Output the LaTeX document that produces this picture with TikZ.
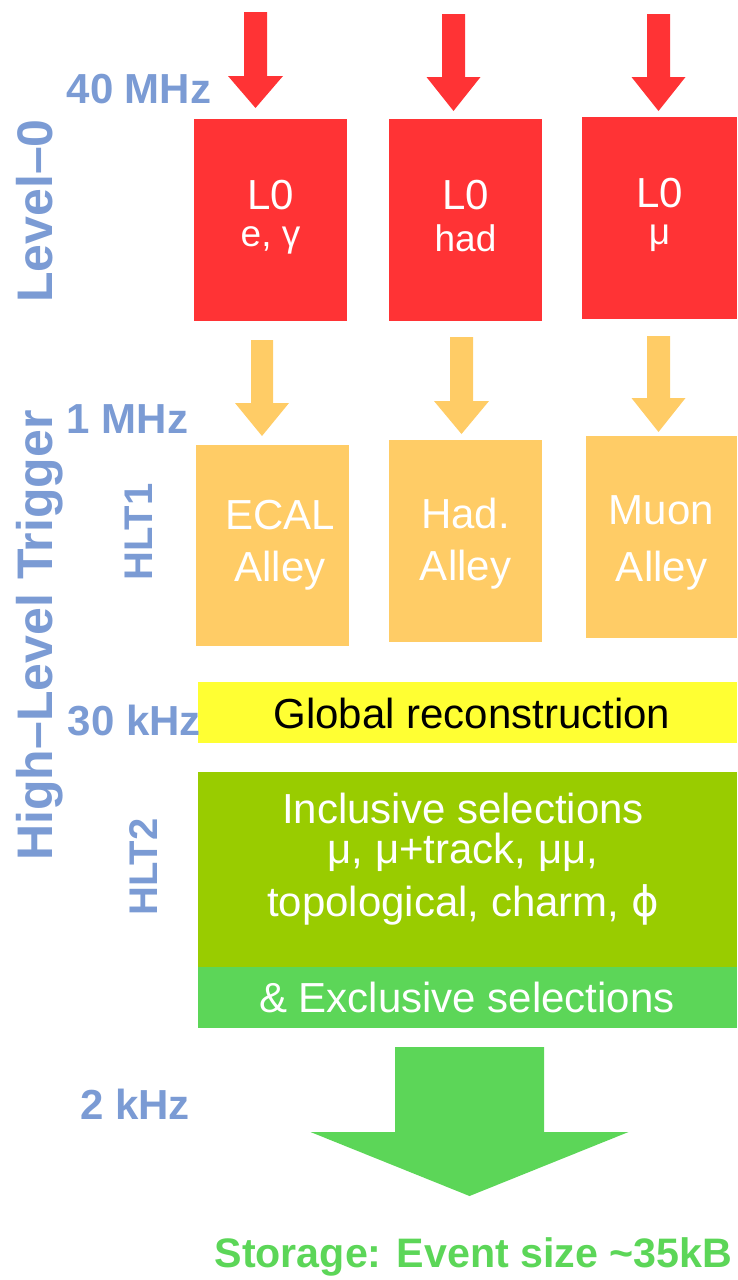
\documentclass[tikz,border=0pt]{standalone}
\usepackage{fontspec}
\setmainfont{Liberation Sans}
\newfontfamily\dejavu{DejaVu Sans}
\definecolor{lblue}{RGB}{123,155,212}
\definecolor{lzred}{RGB}{255,51,53}
\definecolor{hltorange}{RGB}{255,204,102}
\definecolor{globyellow}{RGB}{255,255,51}
\definecolor{hltolive}{RGB}{153,204,0}
\definecolor{exgreen}{RGB}{92,214,88}
\newcommand\blockarrow[7]{%
  \fill[#1] (#2-#4,#3) -- (#2+#4,#3) -- (#2+#4,#6) -- (#2+#5,#6) -- (#2,#7)
    -- (#2-#5,#6) -- (#2-#4,#6) -- cycle;}
\begin{document}
\begin{tikzpicture}[x=1pt,y=-1pt,
  blk/.style={draw=none,inner sep=0pt,outer sep=0pt,anchor=north west},
  boxtext/.style={inner sep=0pt,anchor=north,align=center,text=white,
    font=\fontsize{42}{52}\selectfont},
  ratelabel/.style={inner sep=0pt,anchor=base,text=lblue,
    font=\bfseries\fontsize{42}{42}\selectfont},
  sidelabel/.style={inner sep=0pt,anchor=base,rotate=90,text=lblue,
    font=\bfseries\fontsize{40}{40}\selectfont},
  titlelabel/.style={inner sep=0pt,anchor=base,rotate=90,text=lblue,
    font=\bfseries\fontsize{50}{50}\selectfont}]
\useasboundingbox (0,0) rectangle (737,1280);

% Level-0 boxes
\node[blk,fill=lzred,minimum width=153pt,minimum height=202pt] (r1) at (194,119) {};
\node[blk,fill=lzred,minimum width=153pt,minimum height=202pt] (r2) at (389,119) {};
\node[blk,fill=lzred,minimum width=155pt,minimum height=202pt] (r3) at (582,117) {};
\node[boxtext,font=\fontsize{42}{37}\selectfont] (r1t) at (270.5,180) {L0\\{\fontsize{37}{37}\selectfont e, γ}};
\node[boxtext,font=\fontsize{42}{42}\selectfont] (r2t) at (465.5,180) {L0\\{\fontsize{37}{37}\selectfont had}};
\node[boxtext,font=\fontsize{42}{37}\selectfont] (r3t) at (659.5,178) {L0\\{\fontsize{37}{37}\selectfont μ}};

% red arrows
\blockarrow{lzred}{255.5}{12}{11.5}{27.5}{76}{108}
\blockarrow{lzred}{453.5}{14}{11.5}{27}{77}{111}
\blockarrow{lzred}{658.5}{14}{11.5}{27}{77}{111}

% HLT1 boxes
\node[blk,fill=hltorange,minimum width=153pt,minimum height=201pt] (o1) at (196,445) {};
\node[blk,fill=hltorange,minimum width=153pt,minimum height=202pt] (o2) at (389,440) {};
\node[blk,fill=hltorange,minimum width=151pt,minimum height=202pt] (o3) at (586,436) {};
\node[boxtext] (o1t) at (280,500) {ECAL\\Alley};
\node[boxtext] (o2t) at (465.5,498) {Had.\\Alley};
\node[boxtext,font=\fontsize{42}{57}\selectfont] (o3t) at (661.5,495) {Muon\\Alley};

% orange arrows
\blockarrow{hltorange}{262}{340}{11}{27}{403}{436}
\blockarrow{hltorange}{461.5}{337}{11.5}{27.5}{401}{434}
\blockarrow{hltorange}{658.5}{336}{11.5}{27}{398}{432}

% global reconstruction
\node[blk,fill=globyellow,minimum width=539pt,minimum height=61pt] (glob) at (198,682) {};
\node[inner sep=0pt,anchor=base,font=\fontsize{42}{42}\selectfont] (globt) at (472,728) {Global reconstruction};

% HLT2
\node[blk,fill=hltolive,minimum width=539pt,minimum height=195pt] (incl) at (198,772) {};
\node[blk,fill=exgreen,minimum width=539pt,minimum height=61pt] (excl) at (198,967) {};
\node[boxtext,font=\fontsize{42}{40}\selectfont] (inclt) at (463,793)
  {Inclusive selections\\μ, μ+track, μμ,\\[13pt]topological, charm, {\dejavu ϕ}};
\node[inner sep=0pt,anchor=base,text=white,font=\fontsize{42}{42}\selectfont] (exclt) at (467,1012) {\& Exclusive selections};

% output arrow
\blockarrow{exgreen}{469.5}{1047}{74.5}{159}{1132}{1196}
\node[inner sep=0pt,anchor=base,text=exgreen,font=\bfseries\fontsize{41.2}{42}\selectfont] (store) at (473.5,1267) {Storage: Event size \textasciitilde35kB};

% rates
\node[ratelabel] (r40) at (139,103) {40 MHz};
\node[ratelabel] (r1m) at (127.5,433) {1 MHz};
\node[ratelabel] (r30) at (134.5,735) {30 kHz};
\node[ratelabel] (r2k) at (135,1119) {2 kHz};

% side labels
\node[titlelabel] (lev0) at (52,211) {Level–0};
\node[titlelabel] (hlt) at (52,635.5) {High–Level Trigger};
\node[sidelabel] (hlt1) at (152,532) {HLT1};
\node[sidelabel] (hlt2) at (157,867) {HLT2};
\end{tikzpicture}
\end{document}
